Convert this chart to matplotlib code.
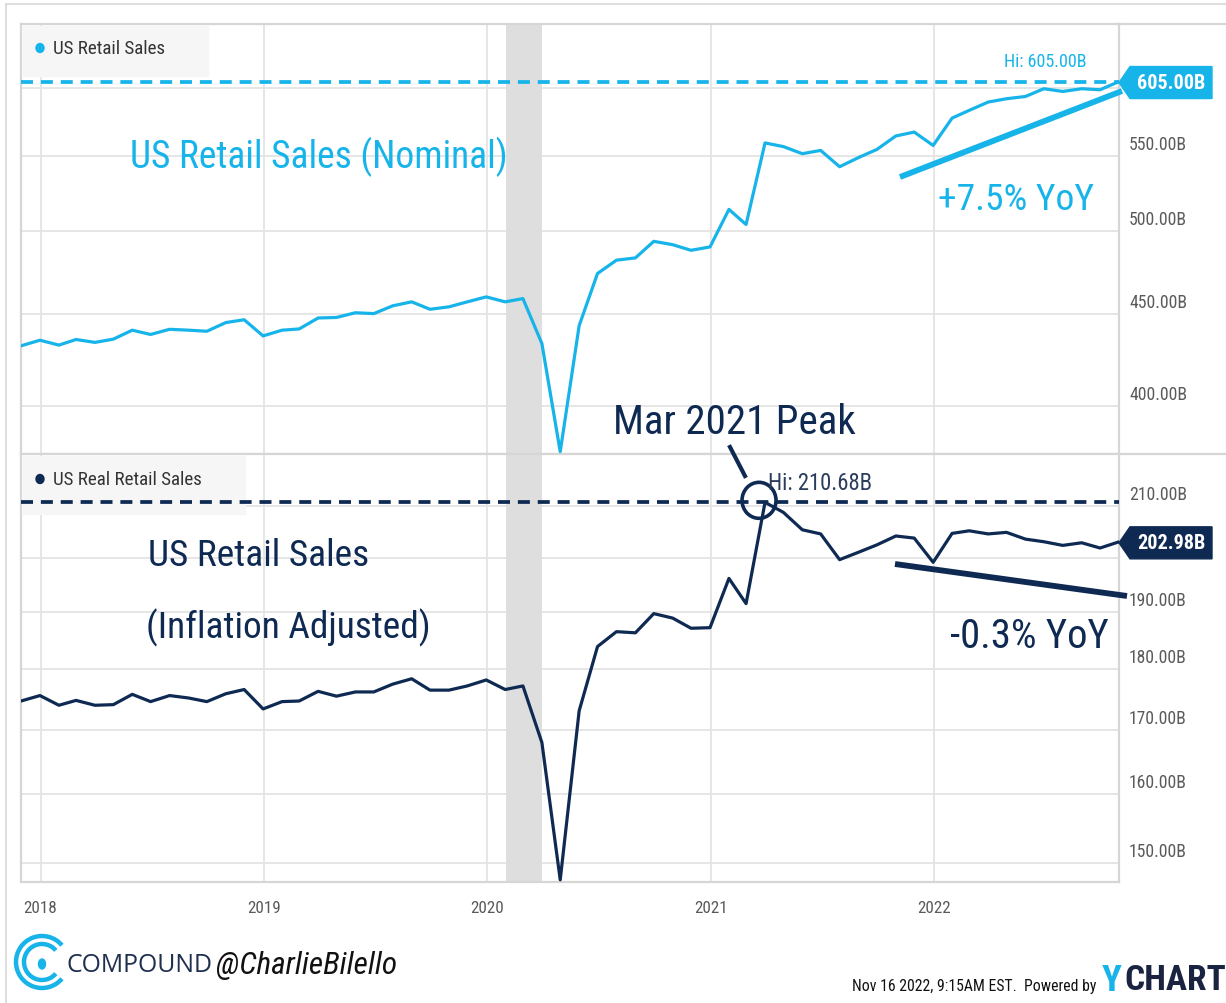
import numpy as np
import pandas as pd
import matplotlib
matplotlib.use("Agg")
import matplotlib.pyplot as plt
import matplotlib.dates as mdates
from matplotlib import font_manager as fm, transforms as mtrans
from matplotlib.patches import Polygon, Ellipse, Arc, Rectangle
from matplotlib.ticker import FixedLocator, NullLocator

# ---------------- data ----------------
start_month = "2017-11"
end_month = "2022-10"
nominal = [432.1, 435.2, 432.5, 435.6, 434.0, 435.8, 440.8, 438.4, 441.3, 440.8,
           440.2, 445.1, 446.7, 437.6, 440.8, 441.5, 447.7, 448.0, 450.7, 450.2,
           454.7, 457.0, 452.7, 454.1, 457.0, 459.9, 457.0, 458.9, 433.4, 377.6,
           443.4, 473.8, 481.9, 483.3, 493.6, 491.5, 488.0, 490.1, 514.1, 504.3,
           559.5, 556.9, 551.9, 554.2, 542.8, 549.2, 554.9, 564.5, 567.3, 557.7,
           577.5, 583.2, 589.4, 591.9, 593.6, 599.5, 597.4, 599.5, 598.7, 605.0]
real = [174.7, 175.6, 174.0, 174.8, 174.0, 174.1, 175.8, 174.6, 175.6, 175.2,
        174.6, 175.9, 176.6, 173.4, 174.6, 174.7, 176.3, 175.5, 176.2, 176.2,
        177.5, 178.4, 176.5, 176.5, 177.2, 178.2, 176.6, 177.2, 168.0, 147.6,
        173.1, 183.9, 186.5, 186.3, 189.7, 188.9, 187.1, 187.2, 196.1, 191.5,
        210.68, 208.7, 205.3, 204.5, 199.6, 201.0, 202.4, 204.1, 203.7, 199.1,
        204.6, 205.1, 204.5, 204.8, 203.5, 203.0, 202.3, 202.8, 201.8, 202.98]
top_ticks = [400, 450, 500, 550, 600]
bot_ticks = [150, 160, 170, 180, 190, 200, 210]
year_labels = ["2018", "2019", "2020", "2021", "2022"]
recession = ("2020-02-01", "2020-04-01")
series_names = ["US Retail Sales", "US Real Retail Sales"]

dates = (pd.period_range(start_month, end_month, freq="M").to_timestamp(how="start")
         + pd.offsets.MonthEnd(0))

# ---------------- fonts ----------------
names = {f.name for f in fm.fontManager.ttflist}
has_dv_cond = any("DejaVuSansCondensed" in f.fname for f in fm.fontManager.ttflist)

def narrow_kw(weight="normal"):
    for c in ["Roboto Condensed", "Liberation Sans Narrow", "Arial Narrow"]:
        if c in names:
            return dict(family=c, weight=weight)
    if has_dv_cond:
        return dict(family="DejaVu Sans", stretch="condensed", weight=weight)
    return dict(family="Liberation Sans" if "Liberation Sans" in names else "DejaVu Sans", weight=weight)

hand_kw = narrow_kw()

# ---------------- figure ----------------
W, H = 1226, 1004
fig = plt.figure(figsize=(W / 100, H / 100), dpi=100)
fig.patch.set_facecolor("white")

L, R = 21, 1119
ax_top = fig.add_axes([L / W, 1 - 455 / H, (R - L) / W, 430 / H])
ax_bot = fig.add_axes([L / W, 1 - 883 / H, (R - L) / W, 428 / H], sharex=ax_top)

CYAN = "#17b4ea"
NAVY = "#0f2a52"
GRID = "#e4e4e4"
LBL = "#5a5a5a"

for ax in (ax_top, ax_bot):
    ax.set_yscale("log")
    ax.yaxis.set_minor_locator(NullLocator())
    ax.grid(True, color=GRID, lw=1.3, zorder=0)
    ax.tick_params(length=0, labelleft=False, labelright=False)
    for s in ax.spines.values():
        s.set_color("#d6d6d6")
        s.set_linewidth(1.6)
    ax.axvspan(pd.Timestamp(recession[0]), pd.Timestamp(recession[1]),
               color="#dedede", lw=0, zorder=0.8)
    ax.set_axisbelow(True)

ax_top.plot(dates, nominal, color=CYAN, lw=2.3, zorder=3, solid_joinstyle="round")
ax_bot.plot(dates, real, color=NAVY, lw=2.3, zorder=3, solid_joinstyle="round")

ax_top.set_xlim(dates[0], dates[-1])
ax_top.set_ylim(376.5, 651)
ax_bot.set_ylim(147.3, 220.5)
ax_top.yaxis.set_major_locator(FixedLocator(top_ticks))
ax_bot.yaxis.set_major_locator(FixedLocator(bot_ticks))

ydates = [pd.Timestamp(f"{y}-01-01") for y in year_labels]
ax_bot.set_xticks(ydates)
ax_bot.set_xticklabels(year_labels)
ax_top.tick_params(labelbottom=False)
ax_bot.tick_params(axis="x", pad=13, labelcolor=LBL)

# overlay in pixel coordinates
ov = fig.add_axes([0, 0, 1, 1], zorder=10)
ov.set_xlim(0, W)
ov.set_ylim(H, 0)
ov.axis("off")
ov.patch.set_alpha(0)

renderer = fig.canvas.get_renderer()

def fit(ax_, x, y, s, target_w, size0=14, ha="left", va="center", **kw):
    t = ax_.text(x, y, s, fontsize=size0, ha=ha, va=va, **kw)
    w = t.get_window_extent(renderer).width
    t.set_fontsize(size0 * target_w / w)
    return t

def px(ax, xd, yd):
    d = ax.transData.transform((mdates.date2num(xd), yd))
    return d[0], H - d[1]

# y tick labels (sitting above gridlines)
probe = fit(ov, 0, -100, "550.00B", 58, **narrow_kw())
lab_size = probe.get_fontsize()
probe.remove()
probe = fit(ov, 0, -100, "2018", 34, **narrow_kw())
x_size = probe.get_fontsize()
probe.remove()
for ax, ticks, hide in ((ax_top, top_ticks, 600), (ax_bot, bot_ticks, 200)):
    tr = mtrans.offset_copy(ax.get_yaxis_transform(), fig=fig, x=10, y=12, units="dots")
    for v in ticks:
        if v == hide:
            continue
        ax.text(1, v, f"{v:.2f}B", transform=tr, ha="left", va="center",
                fontsize=lab_size, color=LBL, clip_on=False, **narrow_kw())
for lab in ax_bot.get_xticklabels():
    lab.set_fontproperties(fm.FontProperties(size=x_size, **narrow_kw()))

# frame lines
ov.plot([6, W], [5, 5], color="#d8d8d8", lw=1.2)
ov.plot([6, 6], [5, 1004], color="#d8d8d8", lw=1.2)
for yy in (25, 455):
    ov.plot([R, W], [yy, yy], color="#d6d6d6", lw=1.6)

# legend boxes
ov.add_patch(Rectangle((22, 27), 186, 50, color="#f6f6f6", zorder=0))
ov.add_patch(Rectangle((22, 457), 223, 58, color="#f6f6f6", zorder=0))
ov.add_patch(Ellipse((40, 49), 8, 9, color=CYAN))
ov.add_patch(Ellipse((40, 480), 8, 9, color=NAVY))
fit(ov, 53, 49, series_names[0], 113, color="#333333", **narrow_kw())
fit(ov, 53, 480, series_names[1], 150, color="#333333", **narrow_kw())

# hi lines (drawn over the legend boxes)
dash = (0, (3.2, 2.1))
_, yh_top = px(ax_top, dates[0], max(nominal))
_, yh_bot = px(ax_bot, dates[0], max(real))
ov.plot([L, R], [yh_top, yh_top], color=CYAN, lw=2.7, ls=dash, zorder=1)
ov.plot([L, R], [yh_bot, yh_bot], color=NAVY, lw=2.7, ls=dash, zorder=1)

# Hi labels
fit(ov, 1086, yh_top - 21, f"Hi: {max(nominal):.2f}B", 83, ha="right", color=CYAN, **narrow_kw())
ipk = int(np.argmax(real))
xpk, ypk = px(ax_bot, dates[ipk], real[ipk])
fit(ov, xpk + 3, yh_bot - 20, f"Hi: {max(real):.2f}B", 105, color="#2b3d5c", **narrow_kw())

# last value tags
for ax, vals, col in ((ax_top, nominal, CYAN), (ax_bot, real, NAVY)):
    xl, yl = px(ax, dates[-1], vals[-1])
    yc = yl + 1
    poly = Polygon([(xl, yc), (xl + 11, yc - 16), (xl + 93, yc - 16),
                    (xl + 93, yc + 16), (xl + 11, yc + 16)], closed=True,
                   color=col, zorder=5)
    ov.add_patch(poly)
    fit(ov, xl + 52, yc, f"{vals[-1]:.2f}B", 68, ha="center", color="white",
        zorder=6, **narrow_kw("bold"))

# hand-drawn annotations
fit(ov, 130, 157, "US Retail Sales (Nominal)", 380, color=CYAN, **hand_kw)
fit(ov, 938, 200, "+7.5% YoY", 157, color=CYAN, **hand_kw)
ov.plot([900, 1122], [178, 92], color=CYAN, lw=4.2, solid_capstyle="butt")
fit(ov, 613, 423, "Mar 2021 Peak", 244, color=NAVY, **hand_kw)
ov.plot([730, 745], [448, 477], color=NAVY, lw=3)
ov.add_patch(Ellipse((xpk - 6, ypk - 2), 34, 36, fill=False, ec=NAVY, lw=2.6))
fit(ov, 148, 556, "US Retail Sales", 222, color=NAVY, **hand_kw)
fit(ov, 146, 628, "(Inflation Adjusted)", 286, color=NAVY, **hand_kw)
fit(ov, 950, 637, "-0.3% YoY", 160, color=NAVY, **hand_kw)
ov.plot([895, 1127], [565, 597], color=NAVY, lw=4.2, solid_capstyle="butt")

# footer
cx, cy = 42, 963
for r, lw in ((26, 3.2), (18, 3.2)):
    ov.add_patch(Arc((cx, cy), 2 * r, 2 * r, theta1=40, theta2=320, color=CYAN, lw=lw))
ov.add_patch(Ellipse((cx, cy + 2), 7, 10, color=CYAN))
fit(ov, 66, 966, "COMPOUND", 147, color="#1f2f4f", family="Open Sans" if "Open Sans" in names else "DejaVu Sans")
fit(ov, 216, 966, "@CharlieBilello", 182, color="#111111", style="italic", **hand_kw)
fit(ov, 852, 987, "Nov 16 2022, 9:15AM EST.  Powered by", 246, color="#111111", **narrow_kw())
fit(ov, 1102, 981, "Y", 20, color=CYAN, **narrow_kw("bold"))
fit(ov, 1124, 981, "CHART", 102, color="#1a2440", **narrow_kw("bold"))

fig.savefig("out.png", dpi=100, facecolor="white")
